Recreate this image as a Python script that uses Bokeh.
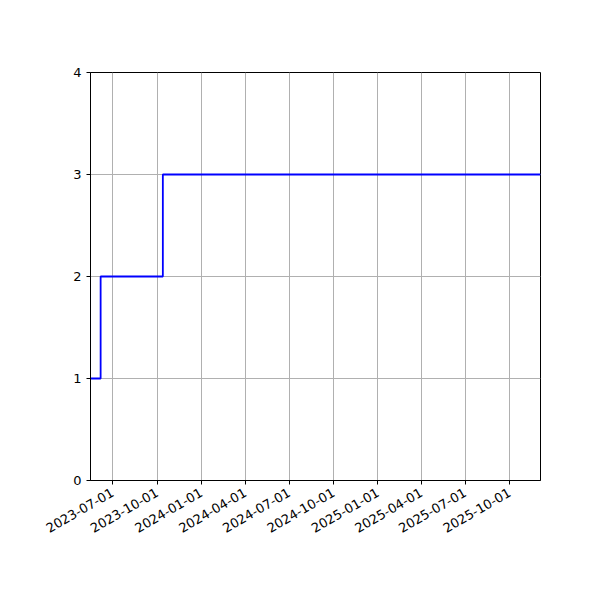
import math
import pandas as pd
from bokeh.plotting import figure
from bokeh.models import Range1d, FixedTicker, DatetimeTickFormatter
from bokeh.embed import file_html
from bokeh.resources import INLINE

# Data
step_dates = ["2023-05-16", "2023-06-06", "2023-10-13", "2025-12-04"]
step_values = [1, 2, 3, 3]
tick_dates = ["2023-07-01", "2023-10-01", "2024-01-01", "2024-04-01", "2024-07-01",
              "2024-10-01", "2025-01-01", "2025-04-01", "2025-07-01", "2025-10-01"]
y_ticks = [0, 1, 2, 3, 4]

x = pd.to_datetime(step_dates)
tick_ms = [pd.Timestamp(d).value / 1e6 for d in tick_dates]

p = figure(output_backend="svg", toolbar_location=None,
           x_axis_type="datetime",
           frame_width=450, frame_height=408,
           min_border_left=90, min_border_top=72, min_border_right=52, min_border_bottom=110,
           x_range=Range1d(x[0], x[-1]), y_range=Range1d(0, 4))

p.step(x, step_values, mode="after", line_color="blue", line_width=1.8)

font = "DejaVu Sans"
for ax in (p.xaxis[0], p.yaxis[0]):
    ax.axis_line_color = "black"
    ax.major_tick_line_color = "black"
    ax.major_tick_out = 4
    ax.major_tick_in = 0
    ax.minor_tick_line_color = None
    ax.major_label_text_font = font
    ax.major_label_text_font_size = "13px"
    ax.major_label_text_color = "black"

p.xaxis.ticker = FixedTicker(ticks=tick_ms)
p.xaxis.formatter = DatetimeTickFormatter(days="%Y-%m-%d", months="%Y-%m-%d", years="%Y-%m-%d")
p.xaxis.major_label_orientation = math.pi / 6
p.xaxis.major_label_standoff = 7
p.yaxis.ticker = FixedTicker(ticks=y_ticks)

p.xgrid.ticker = FixedTicker(ticks=tick_ms)
p.ygrid.ticker = FixedTicker(ticks=y_ticks)
p.grid.grid_line_color = "#b0b0b0"
p.grid.grid_line_width = 1

p.outline_line_color = "black"
p.outline_line_width = 1
p.background_fill_color = "white"
p.border_fill_color = "white"

open("out.html", "w").write(file_html(p, INLINE))
